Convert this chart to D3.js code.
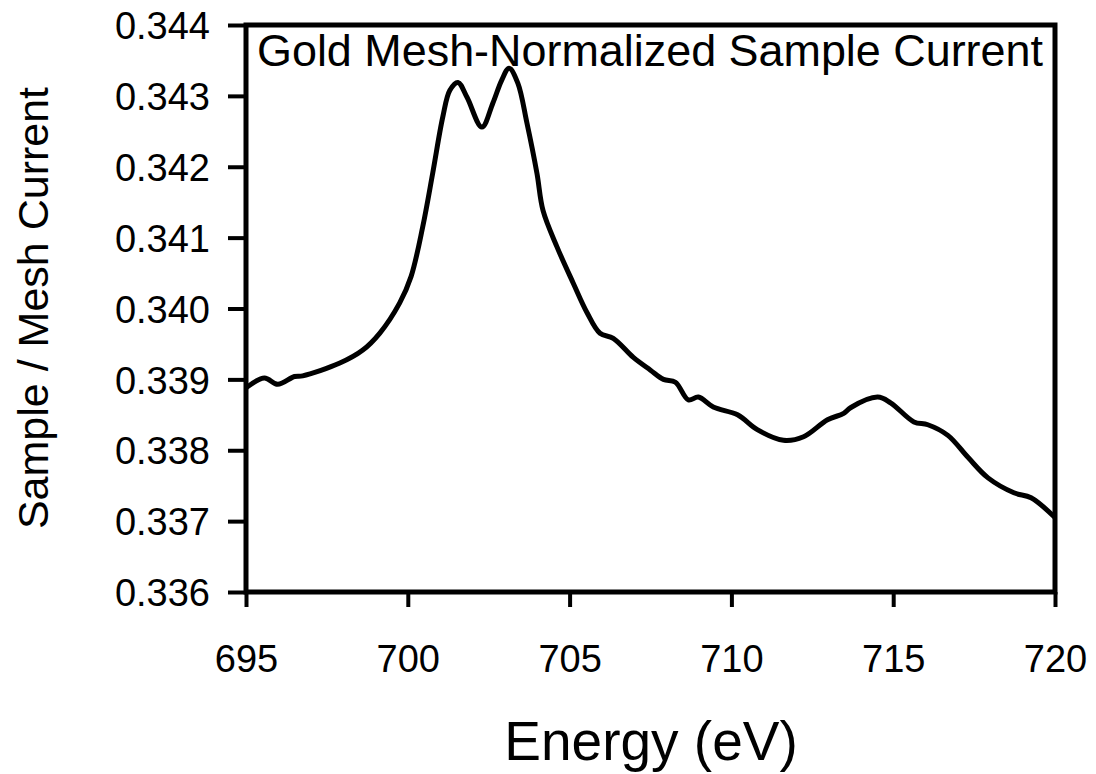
<!DOCTYPE html>
<html>
<head>
<meta charset="utf-8">
<script src="https://cdnjs.cloudflare.com/ajax/libs/d3/7.8.5/d3.min.js"></script>
<style>
body { margin: 0; background: #fff; }
text { font-family: "Liberation Sans", Arial, sans-serif; fill: #000; }
</style>
</head>
<body>
<div id="chart"></div>
<script>
// energy (eV) and normalized current
var energy = [695.0, 695.57, 695.98, 696.5, 696.75, 697.9, 698.6, 699.13, 699.75, 700.1,
              700.46, 700.77, 701.08, 701.3, 701.55, 701.83, 702.29, 702.63, 702.9, 703.13,
              703.4, 703.68, 703.99, 704.18, 704.61, 705.11, 705.54, 705.94, 706.35, 706.97,
              707.5, 707.9, 708.27, 708.67, 708.98, 709.44, 710.19, 710.8, 711.61, 712.23,
              712.97, 713.47, 713.68, 714.52, 714.92, 715.64, 716.07, 716.69, 717.31, 717.93,
              718.73, 719.26, 720.0];
var current = [0.33888, 0.33902, 0.33893, 0.33904, 0.33905, 0.33923, 0.33941, 0.33965, 0.34008, 0.34045,
               0.34115, 0.34191, 0.3427, 0.34308, 0.34319, 0.34298, 0.34256, 0.3429, 0.34322, 0.34339,
               0.34318, 0.34262, 0.34191, 0.34138, 0.34087, 0.34036, 0.33994, 0.33965, 0.33958, 0.33931,
               0.33913, 0.339, 0.33896, 0.33871, 0.33875, 0.33861, 0.3385, 0.33829, 0.33814, 0.33819,
               0.33843, 0.33852, 0.3386, 0.33875, 0.33867, 0.3384, 0.33836, 0.33821, 0.3379, 0.33761,
               0.3374, 0.33733, 0.33705];
var xTicks = [695, 700, 705, 710, 715, 720];
var yTicks = [0.336, 0.337, 0.338, 0.339, 0.340, 0.341, 0.342, 0.343, 0.344];

var titleText = "Gold Mesh-Normalized Sample Current";
var xLabel = "Energy (eV)";
var yLabel = "Sample / Mesh Current";

var w = 1096, h = 774;
var plot = {left: 246, right: 1055, top: 25, bottom: 592};

var svg = d3.select("#chart").append("svg")
            .attr("width", w)
            .attr("height", h);

var xScale = d3.scaleLinear().domain([695, 720]).range([plot.left, plot.right]);
var yScale = d3.scaleLinear().domain([0.336, 0.344]).range([plot.bottom, plot.top]);

// axes (ticks + labels), the frame is drawn separately
var xAxis = svg.append("g")
   .attr("transform", "translate(0," + plot.bottom + ")")
   .call(d3.axisBottom(xScale).tickValues(xTicks).tickFormat(d3.format("d"))
            .tickSizeInner(15).tickSizeOuter(0).tickPadding(38));

var yAxis = svg.append("g")
   .attr("transform", "translate(" + plot.left + ",0)")
   .call(d3.axisLeft(yScale).tickValues(yTicks).tickFormat(d3.format(".3f"))
            .tickSizeInner(18).tickSizeOuter(0).tickPadding(18));

[xAxis, yAxis].forEach(function(a) {
    a.select(".domain").remove();
    a.selectAll(".tick line").attr("stroke", "#000").attr("stroke-width", 4);
    a.selectAll(".tick text")
     .attr("font-family", "Liberation Sans, Arial, sans-serif")
     .attr("font-size", 38)
     .attr("fill", "#000");
});
yAxis.selectAll(".tick text").attr("dy", "0.36em");

// data line
var line = d3.line()
             .x(function(d, i) { return xScale(energy[i]); })
             .y(function(d) { return yScale(d); })
             .curve(d3.curveCatmullRom.alpha(0.5));

svg.append("path")
   .attr("d", line(current))
   .attr("fill", "none")
   .attr("stroke", "#000")
   .attr("stroke-width", 5)
   .attr("stroke-linejoin", "round");

// plot frame
svg.append("rect")
   .attr("x", plot.left)
   .attr("y", plot.top)
   .attr("width", plot.right - plot.left)
   .attr("height", plot.bottom - plot.top)
   .attr("fill", "none")
   .attr("stroke", "#000")
   .attr("stroke-width", 5);

// title inside the plot
svg.append("text")
   .attr("x", 257)
   .attr("y", 66)
   .attr("font-size", 45)
   .attr("textLength", 786)
   .attr("lengthAdjust", "spacingAndGlyphs")
   .text(titleText);

svg.append("text")
   .attr("x", 651)
   .attr("y", 760)
   .attr("text-anchor", "middle")
   .attr("font-size", 55)
   .text(xLabel);

svg.append("text")
   .attr("transform", "translate(48,308) rotate(-90)")
   .attr("text-anchor", "middle")
   .attr("font-size", 43)
   .text(yLabel);
</script>
</body>
</html>
